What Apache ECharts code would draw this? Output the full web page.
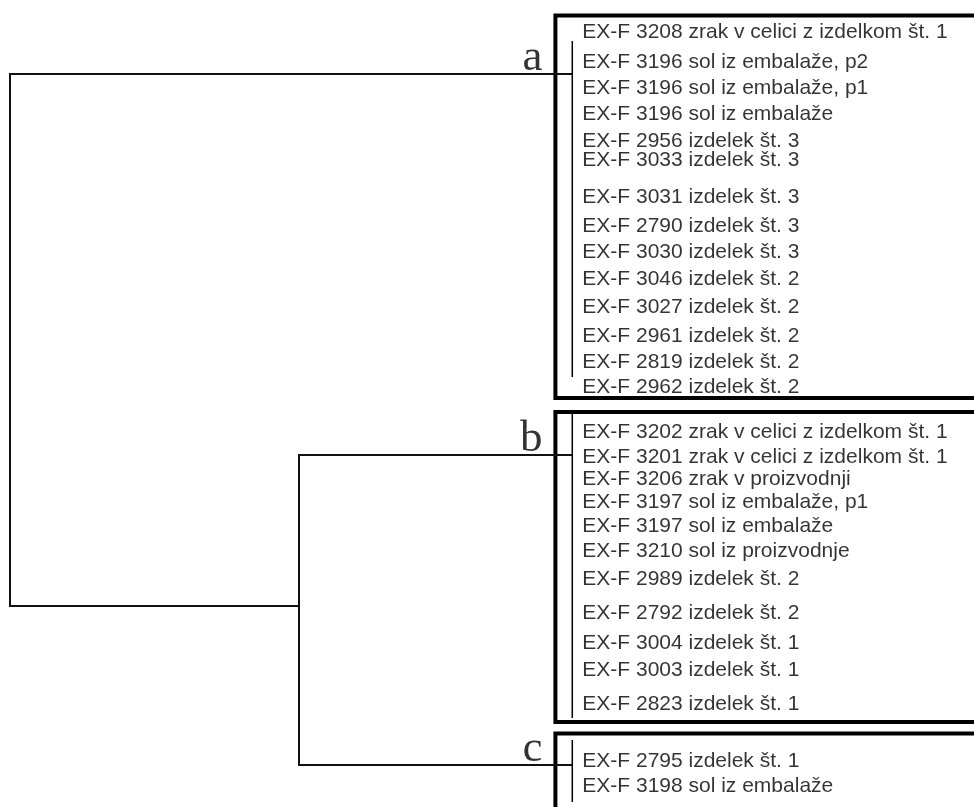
<!DOCTYPE html>
<html lang="sl">
<head>
  <meta charset="UTF-8">
  <title>Dendrogram EX-F</title>
  <script src='https://cdn.jsdelivr.net/npm/echarts@6/dist/echarts.min.js'></script>
  <style>
    html, body {
      margin: 0;
      padding: 0;
      background: #fff;
      overflow: hidden;
    }
  </style>
</head>

<body>
<!-- a bit larger than the window so the boxes run off the right and bottom edges -->
<div id="chart" style="width: 994px; height: 830px"></div>
</body>

<script>
  // leaves of each cluster (top to bottom) and their row position
  let leavesA = [
    'EX-F 3208 zrak v celici z izdelkom št. 1',
    'EX-F 3196 sol iz embalaže, p2',
    'EX-F 3196 sol iz embalaže, p1',
    'EX-F 3196 sol iz embalaže',
    'EX-F 2956 izdelek št. 3',
    'EX-F 3033 izdelek št. 3',
    'EX-F 3031 izdelek št. 3',
    'EX-F 2790 izdelek št. 3',
    'EX-F 3030 izdelek št. 3',
    'EX-F 3046 izdelek št. 2',
    'EX-F 3027 izdelek št. 2',
    'EX-F 2961 izdelek št. 2',
    'EX-F 2819 izdelek št. 2',
    'EX-F 2962 izdelek št. 2'
  ];
  let rowsA = [32, 62, 88, 114, 141, 160, 197, 226, 252, 279, 307, 336, 362, 387];

  let leavesB = [
    'EX-F 3202 zrak v celici z izdelkom št. 1',
    'EX-F 3201 zrak v celici z izdelkom št. 1',
    'EX-F 3206 zrak v proizvodnji',
    'EX-F 3197 sol iz embalaže, p1',
    'EX-F 3197 sol iz embalaže',
    'EX-F 3210 sol iz proizvodnje',
    'EX-F 2989 izdelek št. 2',
    'EX-F 2792 izdelek št. 2',
    'EX-F 3004 izdelek št. 1',
    'EX-F 3003 izdelek št. 1',
    'EX-F 2823 izdelek št. 1'
  ];
  let rowsB = [432, 457, 479, 502, 526, 551, 579, 613, 643, 670, 704];

  let leavesC = [
    'EX-F 2795 izdelek št. 1',
    'EX-F 3198 sol iz embalaže'
  ];
  let rowsC = [761, 786];

  // clusters a, b, c: where the parent link joins, extent of the cluster stem, box rows
  let clusterNames = ['a', 'b', 'c'];
  let clusterLinkPos = [74, 455, 765];
  let clusterStemFrom = [41, 410, 740];
  let clusterStemTo = [377, 718, 802];
  let boxFrom = [15.5, 412, 733.5];
  let boxTo = [398, 722, 830];

  // merge heights (distance); clusters sit at 0
  let rootHeight = 100;
  let bcHeight = 48.6;
  let bcLinkPos = 606;
  let boxEdge = 3;

  let chart = echarts.init(document.getElementById('chart'));

  let leafData = [];
  [[leavesA, rowsA], [leavesB, rowsB], [leavesC, rowsC]].forEach(function (g) {
    for (let i = 0; i < g[0].length; i++) {
      leafData.push({name: g[0][i], value: [0, g[1][i]]});
    }
  });

  let linkData = [
    // root: a  <->  (b,c)
    {coords: [[0, clusterLinkPos[0]], [rootHeight, clusterLinkPos[0]],
      [rootHeight, bcLinkPos], [bcHeight, bcLinkPos]]},
    // (b,c)
    {coords: [[0, clusterLinkPos[1]], [bcHeight, clusterLinkPos[1]],
      [bcHeight, clusterLinkPos[2]], [0, clusterLinkPos[2]]]}
  ];
  let stemData = [];
  for (let i = 0; i < clusterNames.length; i++) {
    stemData.push({coords: [[0, clusterStemFrom[i]], [0, clusterStemTo[i]]]});
  }

  let boxData = [];
  let letterData = [];
  for (let i = 0; i < clusterNames.length; i++) {
    boxData.push([{coord: [boxEdge, boxFrom[i]]}, {coord: [-75, boxTo[i]]}]);
    letterData.push({name: clusterNames[i], value: [boxEdge, clusterLinkPos[i]]});
  }

  let option = {
    backgroundColor: '#fff',
    animation: false,
    grid: {left: 10, right: 0, top: 0, bottom: 0},
    xAxis: {type: 'value', inverse: true, min: -75, max: 100, show: false},
    yAxis: {type: 'value', inverse: true, min: 0, max: 830, show: false},
    series: [
      {
        type: 'lines',
        coordinateSystem: 'cartesian2d',
        polyline: true,
        silent: true,
        lineStyle: {color: '#111', width: 2, opacity: 1},
        data: linkData
      },
      {
        type: 'lines',
        coordinateSystem: 'cartesian2d',
        polyline: true,
        silent: true,
        lineStyle: {color: '#000', width: 1.5, opacity: 1},
        data: stemData
      },
      {
        type: 'scatter',
        symbolSize: 0,
        silent: true,
        label: {
          show: true,
          position: 'right',
          distance: 10,
          formatter: '{b}',
          color: '#000',
          fontSize: 21,
          fontFamily: 'Liberation Sans'
        },
        data: leafData,
        markArea: {
          silent: true,
          label: {show: false},
          itemStyle: {color: 'rgba(0,0,0,0)', borderColor: '#000', borderWidth: 4},
          data: boxData
        }
      },
      {
        type: 'scatter',
        symbolSize: 0,
        silent: true,
        label: {
          show: true,
          position: 'left',
          distance: 13,
          verticalAlign: 'bottom',
          lineHeight: 45,
          offset: [0, 7],
          formatter: '{b}',
          color: '#000',
          fontSize: 45,
          fontFamily: 'Liberation Serif'
        },
        data: letterData
      }
    ]
  };
  chart.setOption(option);
</script>

</html>
